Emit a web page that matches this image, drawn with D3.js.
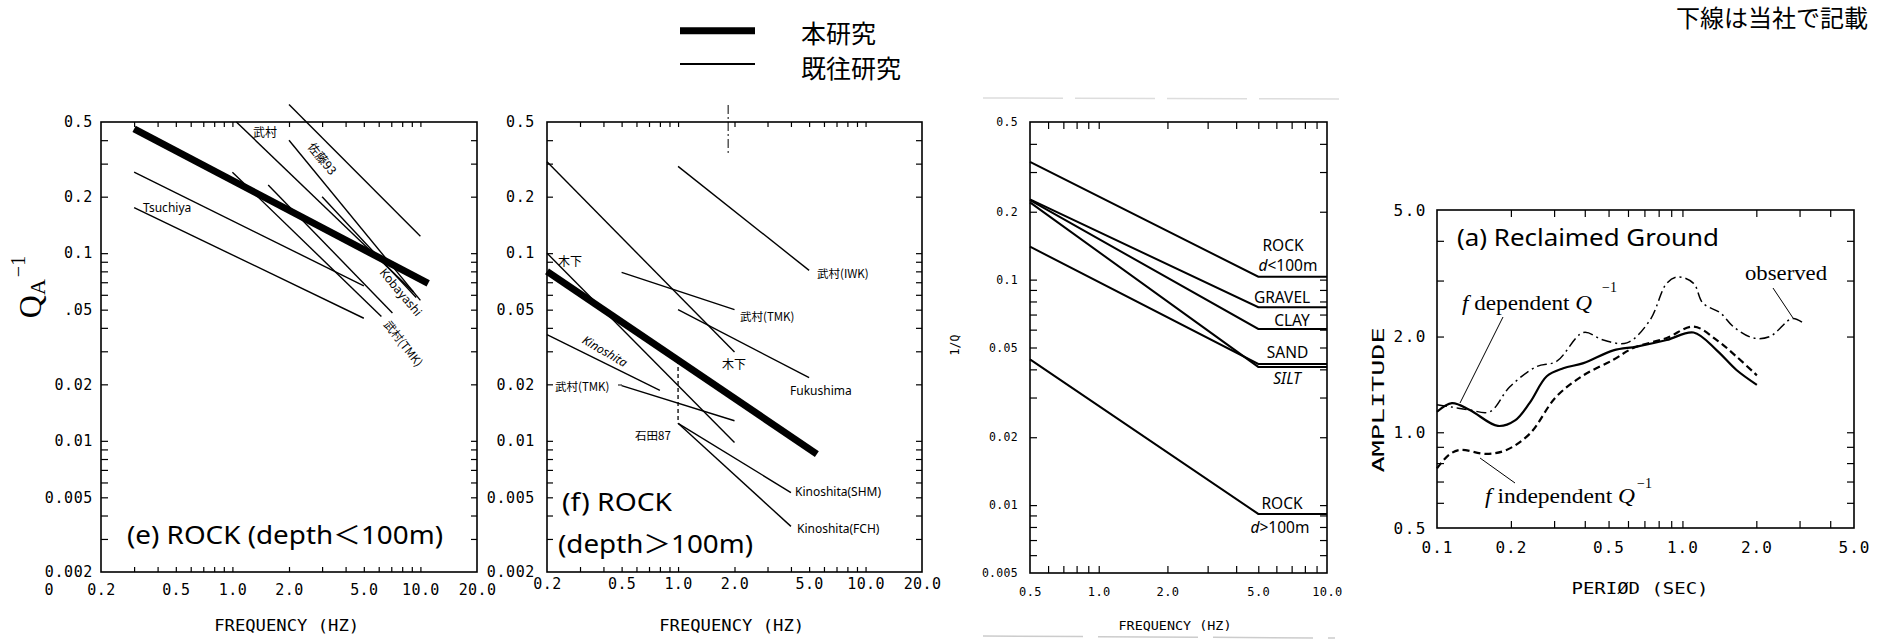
<!DOCTYPE html>
<html><head><meta charset="utf-8">
<script src="https://cdn.jsdelivr.net/npm/d3@7"></script>
<style>
html,body{margin:0;padding:0;background:#fff;}
svg{display:block;}
</style></head><body>
<svg id="chart" width="1887" height="644"></svg>
<script>
// ---------------- DATA ----------------
const legendLabels = ["本研究", "既往研究"];
const noteText = "下線は当社で記載";

// Panels (e) and (f): frequency axis and Q^-1 axis
const freqTicks = [0.2, 0.5, 1, 2, 5, 10, 20];
const freqTickLabels = ["0.2", "0.5", "1.0", "2.0", "5.0", "10.0", "20.0"];
const qTicks = [0.5, 0.2, 0.1, 0.05, 0.02, 0.01, 0.005, 0.002];
const qTickLabelsE = ["0.5", "0.2", "0.1", ".05", "0.02", "0.01", "0.005", "0.002"];
const qTickLabelsF = ["0.5", "0.2", "0.1", "0.05", "0.02", "0.01", "0.005", "0.002"];

// panel (e) ROCK depth<100m : [frequency, Q^-1] end points
const eThisStudy   = [[0.3, 0.46], [11, 0.069]];
const eUpper       = [[2.0, 0.62], [10, 0.123]];
const eTakemura    = [[1.05, 0.5], [9.2, 0.062]];
const eSato93      = [[2.0, 0.40], [10, 0.056]];
const eSteep       = [[3.0, 0.20], [9.5, 0.058]];
const eKobayashi   = [[1.55, 0.231], [7.1, 0.048]];
const eTakemuraTMK = [[1.0, 0.27], [6.2, 0.046]];
const eMid         = [[0.3, 0.27], [5.0, 0.067]];
const eTsuchiya    = [[0.3, 0.175], [5.0, 0.045]];

// panel (f) ROCK depth>100m
const fThisStudy     = [[0.2, 0.08], [5.5, 0.0085]];
const fKinoshitaA    = [[0.2, 0.307], [2.0, 0.0297]];
const fKinoshitaB    = [[0.2, 0.10], [2.0, 0.0098]];
const fTakemuraIWK   = [[1.0, 0.29], [5.0, 0.081]];
const fTakemuraTMK1  = [[0.5, 0.079], [2.0, 0.050]];
const fFukushima     = [[1.0, 0.050], [5.0, 0.0217]];
const fKinoshita     = [[0.2, 0.0368], [0.8, 0.0186]];
const fTakemuraTMK2  = [[0.5, 0.0197], [2.0, 0.0128]];
const fIshida87      = [[1.0, 0.027], [1.0, 0.0124]];
const fKinoshitaSHM  = [[1.0, 0.0124], [4.0, 0.0053]];
const fKinoshitaFCH  = [[1.0, 0.0124], [4.0, 0.0035]];
const fMark          = [[1.85, 0.616], [1.85, 0.342]];

// panel 3: 1/Q by soil type
const soilFreq = [0.5, 5, 10];
const qRockShallow = [0.333, 0.103, 0.103];
const qGravel      = [0.227, 0.0754, 0.0754];
const qClay        = [0.225, 0.0604, 0.0604];
const qSand        = [0.140, 0.0423, 0.0423];
const qSilt        = [0.220, 0.0410, 0.0410];
const qRockDeep    = [0.0443, 0.00914, 0.00914];
const soilFreqTicks = [0.5, 1, 2, 5, 10];
const soilFreqTickLabels = ["0.5", "1.0", "2.0", "5.0", "10.0"];
const invQTicks = [0.5, 0.2, 0.1, 0.05, 0.02, 0.01, 0.005];
const invQTickLabels = ["0.5", "0.2", "0.1", "0.05", "0.02", "0.01", "0.005"];

// panel 4: amplification (a) Reclaimed Ground
const periodDep = [0.1, 0.115, 0.136, 0.177, 0.208, 0.239, 0.28, 0.327, 0.395, 0.523, 0.651, 0.863, 1.11, 1.38, 1.66, 2.01];
const ampDep    = [1.16, 1.235, 1.175, 1.047, 1.09, 1.24, 1.5, 1.59, 1.65, 1.81, 1.86, 1.95, 2.06, 1.81, 1.57, 1.41];
const periodIndep = [0.1, 0.112, 0.124, 0.159, 0.192, 0.239, 0.305, 0.395, 0.523, 0.63, 0.863, 1.11, 1.38, 1.66, 2.01];
const ampIndep    = [0.77, 0.85, 0.88, 0.855, 0.88, 0.99, 1.29, 1.51, 1.69, 1.84, 1.98, 2.15, 1.95, 1.73, 1.51];
const periodObs = [0.1, 0.115, 0.136, 0.164, 0.198, 0.255, 0.307, 0.395, 0.476, 0.594, 0.737, 0.863, 0.96, 1.11, 1.21, 1.43, 1.61, 1.94, 2.27, 2.8, 3.07];
const ampObs    = [1.22, 1.2, 1.175, 1.16, 1.39, 1.61, 1.67, 2.06, 1.95, 1.91, 2.25, 2.94, 3.08, 2.94, 2.55, 2.37, 2.15, 1.98, 2.0, 2.28, 2.22];
const periodTicks = [0.1, 0.2, 0.5, 1, 2, 5];
const periodTickLabels = ["0.1", "0.2", "0.5", "1.0", "2.0", "5.0"];
const ampTicks = [5, 2, 1, 0.5];
const ampTickLabels = ["5.0", "2.0", "1.0", "0.5"];

// ---------------- DRAWING ----------------
const svg = d3.select("#chart");
const SANS = "'Noto Sans','Noto Sans CJK JP',sans-serif";
const CJK = "'Noto Sans CJK JP','Noto Sans',sans-serif";
const MONO = "'DejaVu Sans Mono',monospace";
const SERIF = "'Liberation Serif','DejaVu Serif',serif";

function logMinors(domain) {
  const [a, b] = domain, out = [];
  for (let e = -4; e <= 2; e++) for (let k = 1; k <= 9; k++) {
    const v = +(k * Math.pow(10, e)).toPrecision(3);
    if (v > a * 1.0001 && v < b * 0.9999) out.push(v);
  }
  return out;
}

function frame(g, x, y, t) {
  const [x0, x1] = x.range(), [y0, y1] = y.range();
  const xm = logMinors(x.domain()), ym = logMinors(y.domain());
  const clean = s => { s.select(".domain").remove(); s.selectAll("line").attr("stroke", "#000").attr("stroke-width", 1.2); };
  g.append("g").attr("transform", `translate(0,${y0})`).call(d3.axisBottom(x).tickValues(xm).tickSize(-t.b).tickFormat("")).call(clean);
  g.append("g").attr("transform", `translate(0,${y1})`).call(d3.axisTop(x).tickValues(xm).tickSize(-t.t).tickFormat("")).call(clean);
  g.append("g").attr("transform", `translate(${x0},0)`).call(d3.axisLeft(y).tickValues(ym).tickSize(-t.l).tickFormat("")).call(clean);
  g.append("g").attr("transform", `translate(${x1},0)`).call(d3.axisRight(y).tickValues(ym).tickSize(-t.r).tickFormat("")).call(clean);
  g.append("rect").attr("x", x0).attr("y", y1).attr("width", x1 - x0).attr("height", y0 - y1)
    .attr("fill", "none").attr("stroke", "#000").attr("stroke-width", 1.6);
}

function labels(g, axis, pos, vals, labs, pad, size, spacing) {
  const ax = axis.tickValues(vals).tickSize(0).tickPadding(pad).tickFormat(d => labs[vals.indexOf(d)]);
  const s = g.append("g").attr("transform", pos).call(ax);
  s.select(".domain").remove();
  s.attr("font-family", MONO).attr("font-size", size);
  s.selectAll("text").attr("fill", "#000").attr("letter-spacing", spacing);
  return s;
}

function seg(g, pts, x, y, w, dash) {
  return g.append("path").datum(pts)
    .attr("d", d3.line().x(d => x(d[0])).y(d => y(d[1])))
    .attr("fill", "none").attr("stroke", "#000").attr("stroke-width", w)
    .attr("stroke-linecap", "butt").attr("stroke-dasharray", dash || null);
}

function txt(g, s, x, y, opt) {
  const t = g.append("text").attr("x", x).attr("y", y).text(s)
    .attr("font-family", opt.ff || SANS).attr("font-size", opt.fs || 12)
    .attr("text-anchor", opt.anchor || "start").attr("dominant-baseline", opt.base || "central")
    .attr("fill", "#000");
  if (opt.rot) t.attr("transform", `rotate(${opt.rot},${x},${y})`);
  if (opt.style) t.attr("font-style", opt.style);
  if (opt.len) t.attr("textLength", opt.len).attr("lengthAdjust", "spacingAndGlyphs");
  if (opt.ls) t.attr("letter-spacing", opt.ls);
  return t;
}

// ---------- legend & note ----------
{
  const g = svg.append("g");
  g.append("line").attr("x1", 680).attr("x2", 755).attr("y1", 30.7).attr("y2", 30.7).attr("stroke", "#000").attr("stroke-width", 7);
  g.append("line").attr("x1", 680).attr("x2", 755).attr("y1", 64).attr("y2", 64).attr("stroke", "#000").attr("stroke-width", 2);
  txt(g, legendLabels[0], 801, 32, { ff: CJK, fs: 25 });
  txt(g, legendLabels[1], 801, 66.5, { ff: CJK, fs: 25 });
  txt(g, noteText, 1676, 16, { ff: CJK, fs: 24 });
}

// ---------- panel (e) ----------
{
  const g = svg.append("g");
  const x = d3.scaleLog().domain([0.2, 20]).range([101, 477]);
  const y = d3.scaleLog().domain([0.002, 0.5]).range([572, 122]);
  frame(g, x, y, { b: 5, t: 5, l: 7, r: 6 });
  labels(g, d3.axisLeft(y), "translate(101,0)", qTicks, qTickLabelsE, 8, 15, 0.6);
  labels(g, d3.axisBottom(x), "translate(0,572)", freqTicks, freqTickLabels, 12, 15, 0.4);
  txt(g, "0", 49, 590, { ff: MONO, fs: 15, anchor: "middle" });
  txt(g, "FREQUENCY (HZ)", 286.7, 625, { ff: MONO, fs: 16, anchor: "middle", len: 145 });
  // Q_A^-1 title
  const qt = g.append("text").attr("transform", "translate(41,287) rotate(-90)").attr("text-anchor", "middle")
    .attr("font-family", SERIF).attr("fill", "#000");
  qt.append("tspan").attr("font-size", 32).text("Q");
  qt.append("tspan").attr("font-size", 22).attr("dy", 4).text("A");
  qt.append("tspan").attr("font-size", 20).attr("dy", -20).attr("dx", 2).text("−1");

  [eUpper, eTakemura, eSato93, eSteep, eKobayashi, eTakemuraTMK, eMid, eTsuchiya].forEach(p => seg(g, p, x, y, 1.4));
  seg(g, eThisStudy, x, y, 7);

  txt(g, "武村", 253, 131.5, { ff: CJK, fs: 12 });
  txt(g, "佐藤93", 323, 158, { ff: CJK, fs: 12, anchor: "middle", rot: 51 });
  txt(g, "Kobayashi", 401, 292, { fs: 12, anchor: "middle", rot: 50 });
  txt(g, "武村(TMK)", 404, 343, { ff: CJK, fs: 11.5, anchor: "middle", rot: 52 });
  txt(g, "Tsuchiya", 143, 207, { fs: 12 });
  txt(g, "(e) ROCK (depth＜100m)", 127, 534, { ff: SANS, fs: 25, len: 316 });
}

// ---------- panel (f) ----------
{
  const g = svg.append("g");
  const x = d3.scaleLog().domain([0.2, 20]).range([547, 922]);
  const y = d3.scaleLog().domain([0.002, 0.5]).range([572, 122]);
  frame(g, x, y, { b: 5, t: 5, l: 6, r: 6 });
  labels(g, d3.axisLeft(y), "translate(547,0)", qTicks, qTickLabelsF, 12, 15, 0.6);
  labels(g, d3.axisBottom(x), "translate(0,572)", freqTicks, freqTickLabels, 6, 15, 0.4);
  txt(g, "FREQUENCY (HZ)", 731.7, 625, { ff: MONO, fs: 16, anchor: "middle", len: 145 });

  [fKinoshitaA, fKinoshitaB, fTakemuraIWK, fTakemuraTMK1, fFukushima, fKinoshita, fTakemuraTMK2, fKinoshitaSHM, fKinoshitaFCH]
    .forEach(p => seg(g, p, x, y, 1.4));
  seg(g, fIshida87, x, y, 1.3, "4,3");
  seg(g, fMark, x, y, 1, "9,3,2,3");
  seg(g, fThisStudy, x, y, 7);

  txt(g, "木下", 558, 260, { ff: CJK, fs: 12 });
  txt(g, "木下", 734, 363, { ff: CJK, fs: 12, anchor: "middle" });
  txt(g, "武村(IWK)", 817, 273, { ff: CJK, fs: 11.5 });
  txt(g, "武村(TMK)", 740, 316, { ff: CJK, fs: 11.5 });
  txt(g, "Fukushima", 790, 390, { fs: 12 });
  txt(g, "Kinoshita", 605, 351, { fs: 12, anchor: "middle", rot: 30, style: "italic" });
  txt(g, "武村(TMK)", 555, 386, { ff: CJK, fs: 11.5 });
  g.append("line").attr("x1", 618).attr("x2", 622).attr("y1", 385).attr("y2", 385).attr("stroke", "#000");
  txt(g, "石田87", 635, 435, { ff: CJK, fs: 11.5 });
  txt(g, "Kinoshita(SHM)", 795, 491.5, { fs: 12 });
  txt(g, "Kinoshita(FCH)", 797, 528, { fs: 12 });
  txt(g, "(f) ROCK", 562, 501, { ff: SANS, fs: 25, len: 110 });
  txt(g, "(depth＞100m)", 558, 543, { ff: SANS, fs: 25, len: 195 });
}

// ---------- panel 3 (1/Q) ----------
{
  const g = svg.append("g");
  // scan edge lines
  g.append("line").attr("x1", 983).attr("x2", 1345).attr("y1", 98).attr("y2", 99).attr("stroke", "#ddd").attr("stroke-width", 1.5).attr("stroke-dasharray", "80,12");
  g.append("line").attr("x1", 983).attr("x2", 1335).attr("y1", 636).attr("y2", 638).attr("stroke", "#ccc").attr("stroke-width", 1.5).attr("stroke-dasharray", "100,15");
  const x = d3.scaleLog().domain([0.5, 10]).range([1030, 1327]);
  const y = d3.scaleLog().domain([0.005, 0.5]).range([573, 122]);
  frame(g, x, y, { b: 7, t: 7, l: 7, r: 7 });
  labels(g, d3.axisLeft(y), "translate(1030,0)", invQTicks, invQTickLabels, 12, 11.5, 0.3);
  labels(g, d3.axisBottom(x), "translate(0,573)", soilFreqTicks, soilFreqTickLabels, 14, 12, 0.4);
  txt(g, "FREQUENCY (HZ)", 1175, 625, { ff: MONO, fs: 12.5, anchor: "middle", len: 113 });
  txt(g, "1/Q", 955, 345, { ff: MONO, fs: 11.5, anchor: "middle", rot: -90 });

  const soil = [qRockShallow, qGravel, qClay, qSand, qSilt, qRockDeep];
  soil.forEach(vals => seg(g, soilFreq.map((f, i) => [f, vals[i]]), x, y, 2));

  txt(g, "ROCK", 1283, 245, { fs: 15.5, anchor: "middle" });
  const d1 = g.append("text").attr("x", 1288).attr("y", 265).attr("text-anchor", "middle").attr("dominant-baseline", "central")
    .attr("font-family", SANS).attr("font-size", 15.5);
  d1.append("tspan").attr("font-style", "italic").text("d");
  d1.append("tspan").text("<100m");
  txt(g, "GRAVEL", 1282, 297, { fs: 15.5, anchor: "middle" });
  txt(g, "CLAY", 1292, 320, { fs: 15.5, anchor: "middle" });
  txt(g, "SAND", 1287.5, 352, { fs: 15.5, anchor: "middle" });
  txt(g, "SILT", 1287, 378, { fs: 15.5, anchor: "middle", style: "italic" });
  txt(g, "ROCK", 1282, 503, { fs: 15.5, anchor: "middle" });
  const d2 = g.append("text").attr("x", 1280).attr("y", 527).attr("text-anchor", "middle").attr("dominant-baseline", "central")
    .attr("font-family", SANS).attr("font-size", 15.5);
  d2.append("tspan").attr("font-style", "italic").text("d");
  d2.append("tspan").text(">100m");
}

// ---------- panel 4 (amplitude) ----------
{
  const g = svg.append("g");
  const x = d3.scaleLog().domain([0.1, 5]).range([1437, 1854]);
  const y = d3.scaleLog().domain([0.5, 5]).range([528, 210]);
  frame(g, x, y, { b: 7, t: 7, l: 7, r: 7 });
  labels(g, d3.axisLeft(y), "translate(1437,0)", ampTicks, ampTickLabels, 10, 16, 1.5);
  labels(g, d3.axisBottom(x), "translate(0,528)", periodTicks, periodTickLabels, 14, 16, 1);
  txt(g, "PERIØD (SEC)", 1640, 588, { ff: MONO, fs: 16, anchor: "middle", len: 137 });
  txt(g, "AMPLITUDE", 1378, 400, { ff: MONO, fs: 16, anchor: "middle", rot: -90, len: 145 });

  const line = d3.line().x(d => x(d[0])).y(d => y(d[1])).curve(d3.curveCatmullRom.alpha(0.5));
  const mk = (ps, as) => ps.map((p, i) => [p, as[i]]);
  g.append("path").datum(mk(periodObs, ampObs)).attr("d", line).attr("fill", "none").attr("stroke", "#000").attr("stroke-width", 1.5).attr("stroke-dasharray", "10,4,2,4");
  g.append("path").datum(mk(periodIndep, ampIndep)).attr("d", line).attr("fill", "none").attr("stroke", "#000").attr("stroke-width", 2.2).attr("stroke-dasharray", "7,4");
  g.append("path").datum(mk(periodDep, ampDep)).attr("d", line).attr("fill", "none").attr("stroke", "#000").attr("stroke-width", 2.2);

  txt(g, "(a) Reclaimed Ground", 1457, 236, { fs: 24, len: 262 });
  // f dependent
  const t1 = g.append("text").attr("x", 1462).attr("y", 310).attr("font-family", SERIF).attr("font-size", 21).attr("fill", "#000")
    .attr("textLength", 130).attr("lengthAdjust", "spacingAndGlyphs");
  t1.append("tspan").attr("font-style", "italic").text("f");
  t1.append("tspan").text(" dependent ");
  t1.append("tspan").attr("font-style", "italic").text("Q");
  txt(g, "−1", 1602, 287, { ff: SERIF, fs: 14 });
  g.append("line").attr("x1", 1503).attr("y1", 317).attr("x2", 1460).attr("y2", 403).attr("stroke", "#000").attr("stroke-width", 1);
  // f independent
  const t2 = g.append("text").attr("x", 1485).attr("y", 503).attr("font-family", SERIF).attr("font-size", 21).attr("fill", "#000")
    .attr("textLength", 150).attr("lengthAdjust", "spacingAndGlyphs");
  t2.append("tspan").attr("font-style", "italic").text("f");
  t2.append("tspan").text(" independent ");
  t2.append("tspan").attr("font-style", "italic").text("Q");
  txt(g, "−1", 1637, 483, { ff: SERIF, fs: 14 });
  g.append("line").attr("x1", 1480).attr("y1", 458).attr("x2", 1515).attr("y2", 483).attr("stroke", "#000").attr("stroke-width", 1);
  // observed
  txt(g, "observed", 1745, 280, { ff: SERIF, fs: 21, base: "alphabetic", len: 82 });
  g.append("line").attr("x1", 1773).attr("y1", 288).attr("x2", 1793).attr("y2", 318).attr("stroke", "#000").attr("stroke-width", 1);
}
</script></body></html>
